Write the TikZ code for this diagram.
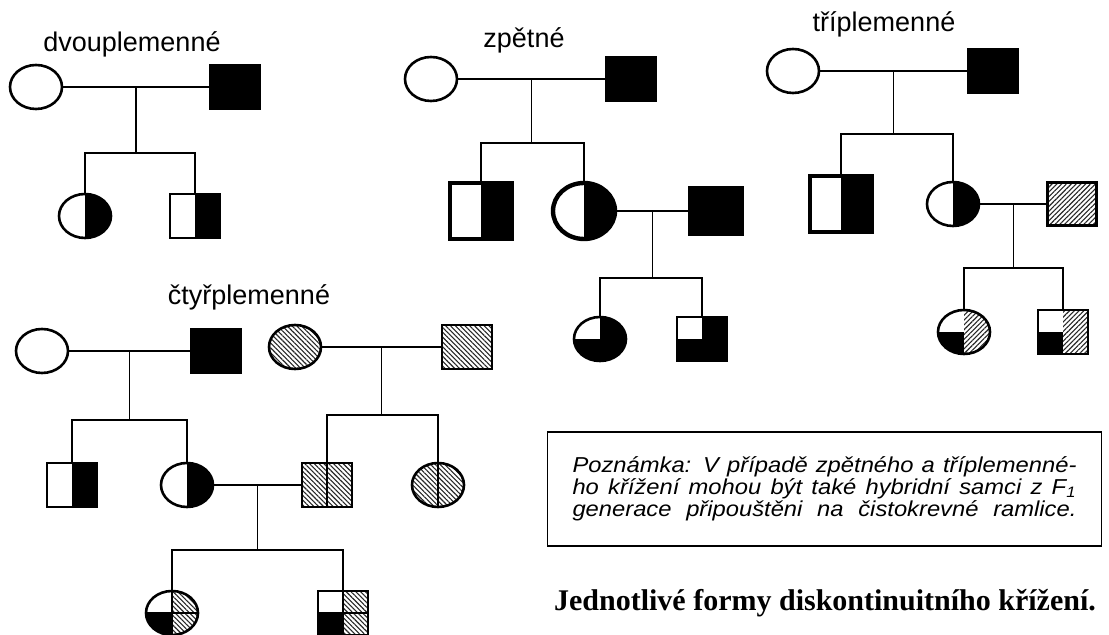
\documentclass[tikz,border=0pt]{standalone}
\usepackage{fontspec}
\setmainfont{Liberation Serif}
\setsansfont{Liberation Sans}
\newfontfamily\notefont[FakeStretch=1.1]{Liberation Sans}
\usetikzlibrary{shapes.geometric,patterns.meta}

\tikzset{
  ind/.style={draw, line width=1.3pt, inner sep=0pt, outer sep=0pt, minimum width=26pt, minimum height=22pt},
  fem/.style={ind, ellipse},
  mal/.style={ind, rectangle, minimum width=25pt},
  big/.style={line width=2.2pt, minimum width=31pt, minimum height=28pt},
  link/.style={line width=0.75pt},
  sflab/.style={font=\sffamily\fontsize{13.5}{16}\selectfont},
  hatch/.style={pattern={Lines[angle=#1,distance=1.7pt,line width=0.55pt]}, pattern color=black!85},
  hatch/.default=-45,
  allblk/.style={fill=black},
  halfblk/.style={path picture={\fill (path picture bounding box.north) rectangle (path picture bounding box.south east);}},
  tqblk/.style={path picture={
    \fill (path picture bounding box.north) rectangle (path picture bounding box.south east);
    \fill (path picture bounding box.west) rectangle (path picture bounding box.south);}},
  qhatch/.style={path picture={
    \fill[hatch=#1] (path picture bounding box.north) rectangle (path picture bounding box.south east);
    \fill (path picture bounding box.west) rectangle (path picture bounding box.south);}},
  qcross/.style={path picture={
    \fill[hatch] (path picture bounding box.north) rectangle (path picture bounding box.south east);
    \fill (path picture bounding box.west) rectangle (path picture bounding box.south);
    \draw[line width=0.6pt] (path picture bounding box.north) -- (path picture bounding box.south);
    \draw[line width=0.6pt] (path picture bounding box.west) -- (path picture bounding box.east);}},
  splithatch/.style={path picture={
    \fill[hatch] (path picture bounding box.south west) rectangle (path picture bounding box.north east);
    \draw[line width=0.6pt] (path picture bounding box.north) -- (path picture bounding box.south);}}
}

\begin{document}
\begin{tikzpicture}[x=0.5pt,y=-0.5pt]
\useasboundingbox (0,0) rectangle (1109,635);

\node[sflab] (lab1) at (132,44) {dvouplemenné};
\node[fem] (f1) at (36,87) {};
\node[mal, allblk] (m1) at (235,87) {};
\node[fem, halfblk] (d1) at (85,216) {};
\node[mal, halfblk] (s1) at (195,216) {};
\draw[link] (f1) -- coordinate (x1) (m1);
\draw[link] (x1) -- ++(0,66) coordinate (y1);
\draw[link] (d1) |- (y1) -| (s1);

\node[sflab] (lab2) at (524,40) {zpětné};
\node[fem] (f2) at (431,79) {};
\node[mal, allblk] (m2) at (631,79) {};
\node[mal, big, halfblk] (s2) at (481,211) {};
\node[fem, big, halfblk] (d2) at (584,211) {};
\node[mal, allblk, minimum width=26.5pt, minimum height=24pt] (m2b) at (716,211) {};
\node[fem, tqblk] (g2a) at (600,339) {};
\node[mal, tqblk] (g2b) at (702,339) {};
\draw[link] (f2) -- coordinate (x2) (m2);
\draw[link] (x2) -- ++(0,64) coordinate (y2);
\draw[link] (s2) |- (y2) -| (d2);
\draw[link] (d2) -- coordinate (x2b) (m2b);
\draw[link] (x2b) -- ++(0,67) coordinate (y2b);
\draw[link] (g2a) |- (y2b) -| (g2b);

\node[sflab] (lab3) at (884,24) {tříplemenné};
\node[fem] (f3) at (793,71) {};
\node[mal, allblk] (m3) at (993,71) {};
\node[mal, big, halfblk] (s3) at (841,204) {};
\node[fem, halfblk] (d3) at (953,204) {};
\node[mal, hatch=45, minimum width=24.5pt, minimum height=21.5pt] (m3b) at (1072,204) {};
\node[fem, qhatch=45] (g3a) at (964,332) {};
\node[mal, qhatch=45] (g3b) at (1063,332) {};
\draw[link] (f3) -- coordinate (x3) (m3);
\draw[link] (x3) -- ++(0,63) coordinate (y3);
\draw[link] (s3) |- (y3) -| (d3);
\draw[link] (d3) -- coordinate (x3b) (m3b);
\draw[link] (x3b) -- ++(0,64) coordinate (y3b);
\draw[link] (g3a) |- (y3b) -| (g3b);

\node[sflab] (lab4) at (249,297) {čtyřplemenné};
\node[fem] (f4) at (42,351) {};
\node[mal, allblk] (m4) at (216,351) {};
\node[fem, hatch] (f4b) at (295,347) {};
\node[mal, hatch] (m4b) at (467,347) {};
\node[mal, halfblk] (s4) at (72,485) {};
\node[fem, halfblk] (d4) at (187,485) {};
\node[mal, splithatch] (s4b) at (327,485) {};
\node[fem, splithatch] (d4b) at (438,485) {};
\node[fem, qcross] (g4a) at (172,613) {};
\node[mal, qcross] (g4b) at (343,613) {};
\draw[link] (f4) -- coordinate (x4) (m4);
\draw[link] (x4) -- ++(0,69) coordinate (y4);
\draw[link] (s4) |- (y4) -| (d4);
\draw[link] (f4b) -- coordinate (x4b) (m4b);
\draw[link] (x4b) -- ++(0,68) coordinate (y4b);
\draw[link] (s4b) |- (y4b) -| (d4b);
\draw[link] (d4) -- coordinate (x4c) (s4b);
\draw[link] (x4c) -- ++(0,65) coordinate (y4c);
\draw[link] (g4a) |- (y4c) -| (g4b);

\node[draw, line width=0.7pt, minimum width=277pt, minimum height=57pt, align=left,
  font=\notefont\itshape\fontsize{10.8}{10.9}\selectfont] (note) at (824.5,489)
  {\makebox[252pt][s]{Poznámka: V případě zpětného a tříplemenné-}\\
   \makebox[252pt][s]{ho křížení mohou být také hybridní samci z F\textsubscript{1}}\\
   \makebox[252pt][s]{generace připouštěni na čistokrevné ramlice.}};
\node[font=\bfseries\fontsize{15}{18}\selectfont] (title) at (825,603) {Jednotlivé formy diskontinuitního křížení.};
\end{tikzpicture}
\end{document}
